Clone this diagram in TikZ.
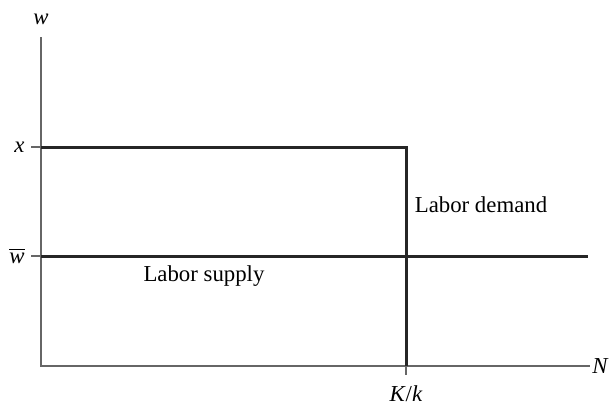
\documentclass[tikz,border=0pt]{standalone}
\usepackage{fontspec}
\setmainfont{Liberation Serif}
\usetikzlibrary{positioning}

\begin{document}
\begin{tikzpicture}[
    x=0.5pt, y=0.5pt,
    every node/.style={font=\fontsize{11.4}{13}\selectfont, inner sep=1pt},
    axis/.style={draw=black!60, line width=0.65pt},
    curve/.style={draw=black!85, line width=1.5pt}
]
\useasboundingbox (0,0) rectangle (610,409);

% Axes
\coordinate (origin) at (41,43);
\coordinate (ytop) at (41,372);
\coordinate (xend) at (590,43);
\draw [axis] (ytop) -- (origin) -- (xend);

% Tick marks
\coordinate (xlev) at (41,262);
\coordinate (wlev) at (41,153);
\coordinate (klev) at (406,43);
\coordinate (xtick) at (31,262);
\coordinate (wtick) at (31,153);
\coordinate (ktick) at (406,34);
\draw [axis] (xtick) -- (xlev);
\draw [axis] (wtick) -- (wlev);
\draw [axis] (klev) -- (ktick);

% Axis labels
\node (wlab) at (41,390) {\textit{w}};
\node (nlab) [right=0pt of xend] {\textit{N}};
\node (xlab) [left=2pt of xtick] {\textit{x}};
\node (wbarlab) [left=2pt of wtick] {$\overline{\hbox{\textit{w}}}$};
\node (klab) at (406,15) {\textit{K}/\textit{k}};

% Demand and supply
\coordinate (corner) at (406,262);
\coordinate (send) at (588,153);
\draw [curve] (xlev) -- (corner) -- (klev);
\draw [curve] (wlev) -- (send);
\node (demand) at (481,204) {Labor demand};
\node (supply) at (204,133) {Labor supply};

\end{tikzpicture}
\end{document}
